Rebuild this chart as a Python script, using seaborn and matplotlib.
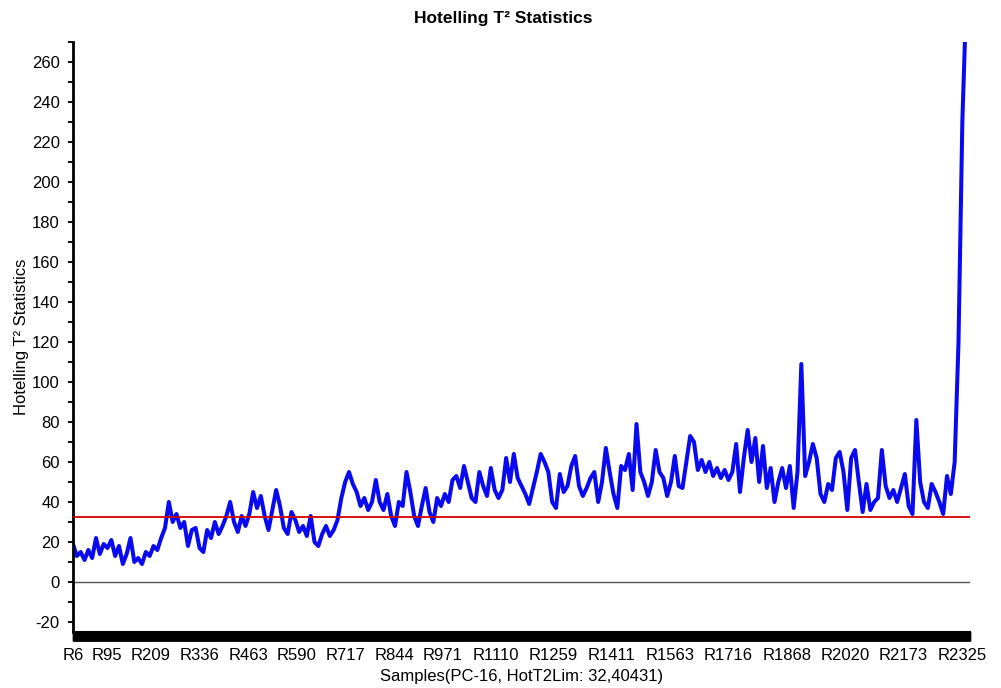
import numpy as np
import pandas as pd
import matplotlib
matplotlib.use("Agg")
import matplotlib.pyplot as plt
from matplotlib.ticker import MultipleLocator, FixedLocator
import seaborn as sns

# Sample numbers (every 10th run) and their Hotelling T² values
sample_no = list(range(6, 2346, 10))
t2_values = [
    19, 13, 15, 11, 16, 12, 22, 14, 19, 17,
    21, 13, 18, 9, 14, 22, 10, 12, 9, 15,
    13, 18, 16, 22, 27, 40, 30, 34, 27, 30,
    18, 26, 27, 17, 15, 26, 22, 30, 24, 28,
    33, 40, 30, 25, 33, 28, 34, 45, 37, 43,
    33, 26, 36, 46, 38, 27, 24, 35, 31, 25,
    28, 23, 33, 20, 18, 24, 28, 23, 26, 31,
    42, 50, 55, 49, 45, 38, 42, 36, 40, 51,
    40, 36, 44, 33, 28, 40, 38, 55, 45, 33,
    28, 38, 47, 35, 30, 42, 38, 44, 40, 51,
    53, 47, 58, 50, 42, 40, 55, 48, 43, 57,
    46, 42, 46, 62, 50, 64, 52, 48, 44, 39,
    47, 55, 64, 60, 55, 40, 37, 54, 45, 48,
    58, 63, 48, 43, 47, 52, 55, 40, 50, 67,
    55, 44, 37, 58, 56, 64, 46, 79, 55, 50,
    43, 50, 66, 55, 52, 43, 50, 63, 48, 47,
    60, 73, 70, 56, 61, 55, 60, 53, 57, 52,
    56, 51, 55, 69, 45, 62, 76, 60, 72, 50,
    68, 47, 57, 40, 50, 57, 47, 58, 37, 55,
    109, 53, 60, 69, 62, 44, 40, 49, 46, 62,
    65, 55, 36, 62, 66, 50, 35, 49, 36, 40,
    42, 66, 48, 42, 46, 40, 47, 54, 38, 34,
    81, 50, 40, 37, 49, 45, 40, 34, 53, 44,
    60, 120, 230, 290,
]

# Control limit and labelled samples on the x axis
t2_limit = 32.40431
tick_samples = [6, 95, 209, 336, 463, 590, 717, 844, 971, 1110,
                1259, 1411, 1563, 1716, 1868, 2020, 2173, 2325]
tick_labels = ["R%d" % s for s in tick_samples]

df = pd.DataFrame({"sample": sample_no, "t2": t2_values})

sns.set_style("white")
plt.rcParams["font.family"] = ["Liberation Sans", "DejaVu Sans"]
plt.rcParams["axes.unicode_minus"] = False
plt.rcParams["text.color"] = "black"
plt.rcParams["axes.labelcolor"] = "black"
plt.rcParams["xtick.color"] = "black"
plt.rcParams["ytick.color"] = "black"

fig = plt.figure(figsize=(10.01, 6.88), dpi=100)
ax = fig.add_axes([73 / 1001, 1 - 632 / 688, (970 - 73) / 1001, (632 - 42) / 688])

ax.axhline(0, color="#555555", lw=1.0, zorder=1)
ax.axhline(t2_limit, color="#d40000", lw=1.3, zorder=3)
sns.lineplot(data=df, x="sample", y="t2", ax=ax, color="#0a0af0",
             lw=2.9, zorder=2, legend=False)

ax.set_xlim(6, 2346)
ax.set_ylim(-25, 270)

# y axis: major every 20, minor every 10
ax.yaxis.set_major_locator(MultipleLocator(20))
ax.yaxis.set_minor_locator(MultipleLocator(10))
ax.tick_params(axis="y", which="both", direction="out", length=3.5,
               width=1.3, color="black", left=True, labelsize=12, pad=6)

# x axis: one tick per sample, forming a dense band under the plot
ax.xaxis.set_major_locator(FixedLocator(tick_samples))
ax.set_xticklabels(tick_labels)
ax.xaxis.set_minor_locator(MultipleLocator(1))
ax.tick_params(axis="x", which="both", direction="out", length=6.5,
               width=1.0, color="black", bottom=True, labelsize=12, pad=5)

for side in ("top", "right"):
    ax.spines[side].set_visible(False)
ax.spines["left"].set_linewidth(2.0)
ax.spines["left"].set_color("black")
ax.spines["bottom"].set_linewidth(1.5)
ax.spines["bottom"].set_color("black")

ax.set_xlabel("Samples(PC-16, HotT2Lim: 32,40431)", fontsize=12, labelpad=4)
ax.set_ylabel("Hotelling T² Statistics", fontsize=12, labelpad=2)
fig.text(0.503, 1 - 18 / 688, "Hotelling T² Statistics", ha="center",
         va="center", fontsize=12.5, fontweight="bold")

fig.savefig("out.png", dpi=100)
